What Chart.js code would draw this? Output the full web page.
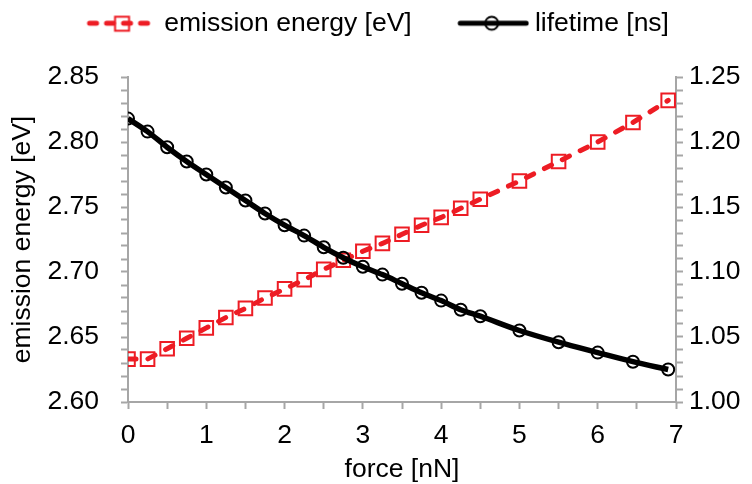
<!DOCTYPE html>
<html>
<head>
<meta charset="utf-8">
<script src="https://cdn.jsdelivr.net/npm/chart.js@4.4.0/dist/chart.umd.min.js"></script>
<style>
  html, body { margin: 0; padding: 0; background: #fff; }
  #wrap { width: 752px; height: 484px; }
</style>
</head>
<body>
<div id="wrap"><canvas id="myChart" width="752" height="484"></canvas></div>
<script>
// force [nN]
var force = [0, 0.25, 0.5, 0.75, 1.0, 1.25, 1.5, 1.75, 2.0, 2.25, 2.5, 2.75,
             3.0, 3.25, 3.5, 3.75, 4.0, 4.25, 4.5, 5.0, 5.5, 6.0, 6.45, 6.9];
// emission energy [eV]
var energy = [2.633, 2.633, 2.641, 2.649, 2.657, 2.665, 2.672, 2.680, 2.687, 2.694, 2.702, 2.709,
              2.716, 2.722, 2.729, 2.736, 2.742, 2.749, 2.756, 2.770, 2.785, 2.800, 2.815, 2.832];
// lifetime [ns]
var lifetime = [1.218, 1.208, 1.196, 1.185, 1.175, 1.165, 1.155, 1.145, 1.136, 1.128, 1.119, 1.111,
                1.104, 1.098, 1.091, 1.084, 1.078, 1.071, 1.066, 1.055, 1.046, 1.038, 1.031, 1.025];
var xTicks = [0, 1, 2, 3, 4, 5, 6, 7];
var energyTicks = [2.60, 2.65, 2.70, 2.75, 2.80, 2.85];
var lifetimeTicks = [1.00, 1.05, 1.10, 1.15, 1.20, 1.25];

var RED = '#ED1C24';
var AXIS = '#a6a6a6';
var FONT = "'Liberation Sans', Arial, sans-serif";
var FS = 26.5;
var BOX = 100; // legend box width
var SHIFT = 32; // pulls the legend a bit left of centre

function pts(xs, ys) {
  return xs.map(function(x, i) { return {x: x, y: ys[i]}; });
}

// legend icon: blank on the left, line + marker on the right 72px
function legendIcon(kind) {
  var c = document.createElement('canvas');
  c.width = BOX + 15; c.height = 22;
  var g = c.getContext('2d');
  var x0 = c.width - 72, x1 = c.width - 3, mid = (x0 + x1) / 2;
  g.lineCap = 'round';
  g.lineWidth = 5;
  if (kind === 'energy') {
    g.strokeStyle = RED;
    g.setLineDash([7, 10]);
    g.beginPath(); g.moveTo(x0 + 3, 11); g.lineTo(x1, 11); g.stroke();
    g.setLineDash([]);
    g.lineWidth = 2;
    g.strokeRect(Math.round(mid - 7) + 0.5, 4.5, 14, 14);
  } else {
    g.strokeStyle = '#000';
    g.beginPath(); g.moveTo(x0 + 3, 11); g.lineTo(x1, 11); g.stroke();
    g.lineWidth = 2;
    g.beginPath(); g.arc(mid, 11, 6.5, 0, Math.PI * 2); g.stroke();
  }
  return c;
}

function minorTicks() {
  return function(scale) {
    scale.ticks = [];
    var lo = Math.round(scale.min * 100), hi = Math.round(scale.max * 100);
    for (var v = lo; v <= hi; v++) scale.ticks.push({value: v / 100});
  };
}

function labelIf(list, digits) {
  return function(value) {
    for (var i = 0; i < list.length; i++) {
      if (Math.abs(list[i] - value) < 1e-6) return value.toFixed(digits);
    }
    return '';
  };
}

// keep the legend block at a fixed height so the plot starts where it should
var legendHeight = {
  id: 'legendHeight',
  afterInit: function(chart) {
    var lg = chart.legend;
    var fit = lg.fit;
    lg.fit = function() { fit.call(this); this.height = 77; };
  }
};

var ctx = document.getElementById('myChart').getContext('2d');
var myChart = new Chart(ctx, {
  type: 'line',
  plugins: [legendHeight],
  data: {
    datasets: [{
      label: 'emission energy [eV]',
      data: pts(force, energy),
      yAxisID: 'yE',
      order: 2,
      borderColor: RED,
      borderWidth: 5,
      borderDash: [8, 12],
      borderCapStyle: 'round',
      pointStyle: 'rect',
      pointRadius: 9.6,
      pointBorderWidth: 2,
      pointBorderColor: RED,
      pointBackgroundColor: 'rgba(0,0,0,0)',
      fill: false,
      tension: 0
    }, {
      label: 'lifetime [ns]',
      data: pts(force, lifetime),
      yAxisID: 'yL',
      order: 1,
      borderColor: '#000',
      borderWidth: 5.5,
      cubicInterpolationMode: 'monotone',
      pointStyle: 'circle',
      pointRadius: 6,
      pointBorderWidth: 2,
      pointBorderColor: '#000',
      pointBackgroundColor: 'rgba(0,0,0,0)',
      fill: false
    }]
  },
  options: {
    responsive: false,
    animation: false,
    devicePixelRatio: 1,
    layout: { padding: { top: 0, left: -SHIFT, right: 0, bottom: 0 } },
    plugins: {
      tooltip: { enabled: false },
      legend: {
        position: 'top',
        labels: {
          color: '#000',
          font: { family: FONT, size: FS },
          usePointStyle: true,
          pointStyleWidth: BOX,
          padding: 10,
          sort: function(a, b) { return a.datasetIndex - b.datasetIndex; },
          generateLabels: function(chart) {
            return chart.data.datasets.map(function(ds, i) {
              return {
                text: ds.label,
                datasetIndex: i,
                pointStyle: legendIcon(i === 0 ? 'energy' : 'life'),
                fontColor: '#000',
                lineWidth: 0,
                hidden: false
              };
            });
          }
        }
      }
    },
    scales: {
      x: {
        type: 'linear',
        min: 0, max: 7,
        afterFit: function(s) { s.height = 82; },
        afterBuildTicks: function(scale) {
          scale.ticks = [];
          for (var v = 0; v <= 14; v++) scale.ticks.push({value: v / 2});
        },
        ticks: {
          autoSkip: false, maxRotation: 0, padding: 11,
          color: '#000', font: { family: FONT, size: FS },
          callback: function(v) { return xTicks.indexOf(v) >= 0 ? String(v) : ''; }
        },
        grid: { drawOnChartArea: false, drawTicks: true, tickLength: 7, tickColor: AXIS, tickWidth: 2 },
        border: { color: AXIS, width: 2 },
        title: { display: true, text: 'force [nN]', color: '#000',
                 font: { family: FONT, size: FS }, padding: { top: 0, bottom: -2 } }
      },
      yE: {
        type: 'linear',
        position: 'left',
        min: 2.60, max: 2.85,
        afterFit: function(s) { s.width = 128 + SHIFT; },
        afterBuildTicks: minorTicks(),
        ticks: {
          autoSkip: false, padding: 22,
          color: '#000', font: { family: FONT, size: FS },
          callback: labelIf(energyTicks, 2)
        },
        grid: { drawOnChartArea: false, drawTicks: true, tickLength: 7, tickColor: AXIS, tickWidth: 2 },
        border: { color: AXIS, width: 2 },
        title: { display: true, text: 'emission energy [eV]', color: '#000',
                 font: { family: FONT, size: FS }, padding: { top: 7 + SHIFT, bottom: 0 } }
      },
      yL: {
        type: 'linear',
        position: 'right',
        min: 1.00, max: 1.25,
        afterFit: function(s) { s.width = 76; },
        afterBuildTicks: minorTicks(),
        ticks: {
          autoSkip: false, padding: 6,
          color: '#000', font: { family: FONT, size: FS },
          callback: labelIf(lifetimeTicks, 2)
        },
        grid: { drawOnChartArea: false, drawTicks: true, tickLength: 7, tickColor: AXIS, tickWidth: 2 },
        border: { color: AXIS, width: 2 }
      }
    }
  }
});
</script>
</body>
</html>
